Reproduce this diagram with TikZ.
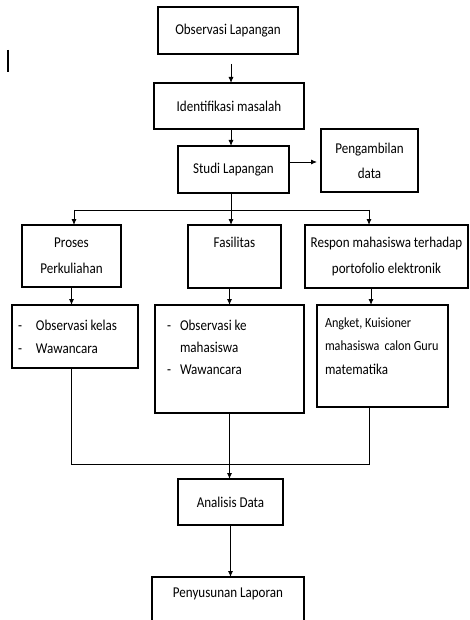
\documentclass[tikz,border=0pt]{standalone}
\usepackage{fontspec}
\setmainfont{Carlito}[FakeStretch=0.87]
\usetikzlibrary{arrows.meta,calc}

% top-aligned box body: width, height, content
\newcommand\topbody[3]{\parbox[c][#2][t]{#1}{#3}}
% dash marker of a list line: left pad, dash cell width
\newcommand\dashline[2]{\hspace*{#1}\makebox[#2][l]{-}}

\tikzset{
  frame/.style={draw, line width=1.2pt, inner sep=0pt, outer sep=0pt},
  box/.style={frame, align=center, font=\fontsize{15}{26}\selectfont},
  topbox/.style={frame, anchor=north west},
  link/.style={line width=0.9pt},
  arr/.style={link, -{Latex[length=6pt,width=5pt]}},
}

\begin{document}
\begin{tikzpicture}[x=1pt, y=-1pt]
\useasboundingbox (0,0) rectangle (470,620);
\clip (0,0) rectangle (470,620);

% cursor mark at the left
\draw[line width=1.8pt] (8,50) -- (8,72);

% main chain
\node[box, minimum width=140pt, minimum height=47pt] (obs) at (228,30.5) {Observasi Lapangan};
\node[box, minimum width=150pt, minimum height=46pt] (ident) at (229,106) {Identifikasi masalah};
\node[box, minimum width=111pt, minimum height=47pt] (studi) at (233.5,169.5) {Studi Lapangan};
\node[box, minimum width=97pt, minimum height=63pt, font=\fontsize{15}{25}\selectfont] (peng) at (369.5,160.5) {Pengambilan\\data};

% three aspects
\node[box, minimum width=99pt, minimum height=62pt] (proses) at (71.5,256) {Proses\\Perkuliahan};
\node[topbox] (fasil) at (188,225) {\topbody{93pt}{63pt}{\centering\fontsize{15}{26}\selectfont\rule{0pt}{22pt}Fasilitas}};
\node[box, minimum width=163pt, minimum height=63pt] (respon) at (386.5,256.5) {Respon mahasiswa terhadap\\portofolio elektronik};

% methods
\node[topbox] (boxA) at (12,305) {\topbody{126pt}{63pt}{\raggedright\fontsize{15}{23}\selectfont
  \rule{0pt}{25pt}\dashline{6pt}{18pt}Observasi kelas\\
  \dashline{6pt}{18pt}Wawancara}};
\node[topbox] (boxB) at (155,305) {\topbody{149pt}{108pt}{\raggedright\fontsize{15}{22}\selectfont
  \rule{0pt}{25pt}\dashline{12pt}{13pt}Observasi ke\\
  \hspace*{25pt}mahasiswa\\
  \dashline{12pt}{13pt}Wawancara}};
\node[topbox] (boxC) at (317,305) {\topbody{131pt}{102pt}{\raggedright\fontsize{14}{23.5}\selectfont
  \rule{0pt}{22pt}\hspace*{8pt}Angket, Kuisioner\\
  \hspace*{8pt}mahasiswa\, calon Guru\\
  \hspace*{8pt}{\fontsize{15}{23.5}\selectfont matematika}}};

% final steps
\node[box, minimum width=105pt, minimum height=46pt] (analisis) at (230.5,502) {Analisis Data};
\node[topbox] (penyu) at (152,577) {\topbody{152pt}{70pt}{\centering\fontsize{15}{26}\selectfont\rule{0pt}{20pt}Penyusunan Laporan}};

% connectors of the main chain
\draw[arr, shorten <=10pt] ([xshift=3pt]obs.south) -- ([xshift=2pt]ident.north);
\draw[arr] ([xshift=2pt]ident.south) -- ([xshift=-2.5pt]studi.north);
\coordinate (sp) at ($(studi.east)+(1,-7.5)$);
\draw[arr, shorten >=4pt] (sp) -- (sp -| peng.west);

% branching into the three aspects
\coordinate (bj) at (231,210);
\coordinate (bl) at (74,210);
\coordinate (br) at (369,210);
\draw[link] (studi.south -| bj) -- (bj);
\draw[link] (bl) -- (br);
\draw[arr] (bl) -- (bl |- proses.north);
\draw[arr] (bj) -- (bj |- fasil.north);
\draw[arr] (br) -- (br |- respon.north);

% aspects to methods
\draw[arr] (proses.south) -- (proses.south |- boxA.north);
\draw[arr] (boxB.north |- fasil.south) -- (boxB.north);
\coordinate (rc) at (371,0);
\draw[arr] (rc |- respon.south) -- (rc |- boxC.north);

% merging into the analysis
\coordinate (ml) at (71,464);
\coordinate (mr) at (369,464);
\draw[link] (ml |- boxA.south) -- (ml) -- (mr) -- (mr |- boxC.south);
\draw[arr] (boxB.south) -- (boxB.south |- analisis.north);
\draw[arr] (analisis.south) -- (analisis.south |- penyu.north);
\end{tikzpicture}
\end{document}
